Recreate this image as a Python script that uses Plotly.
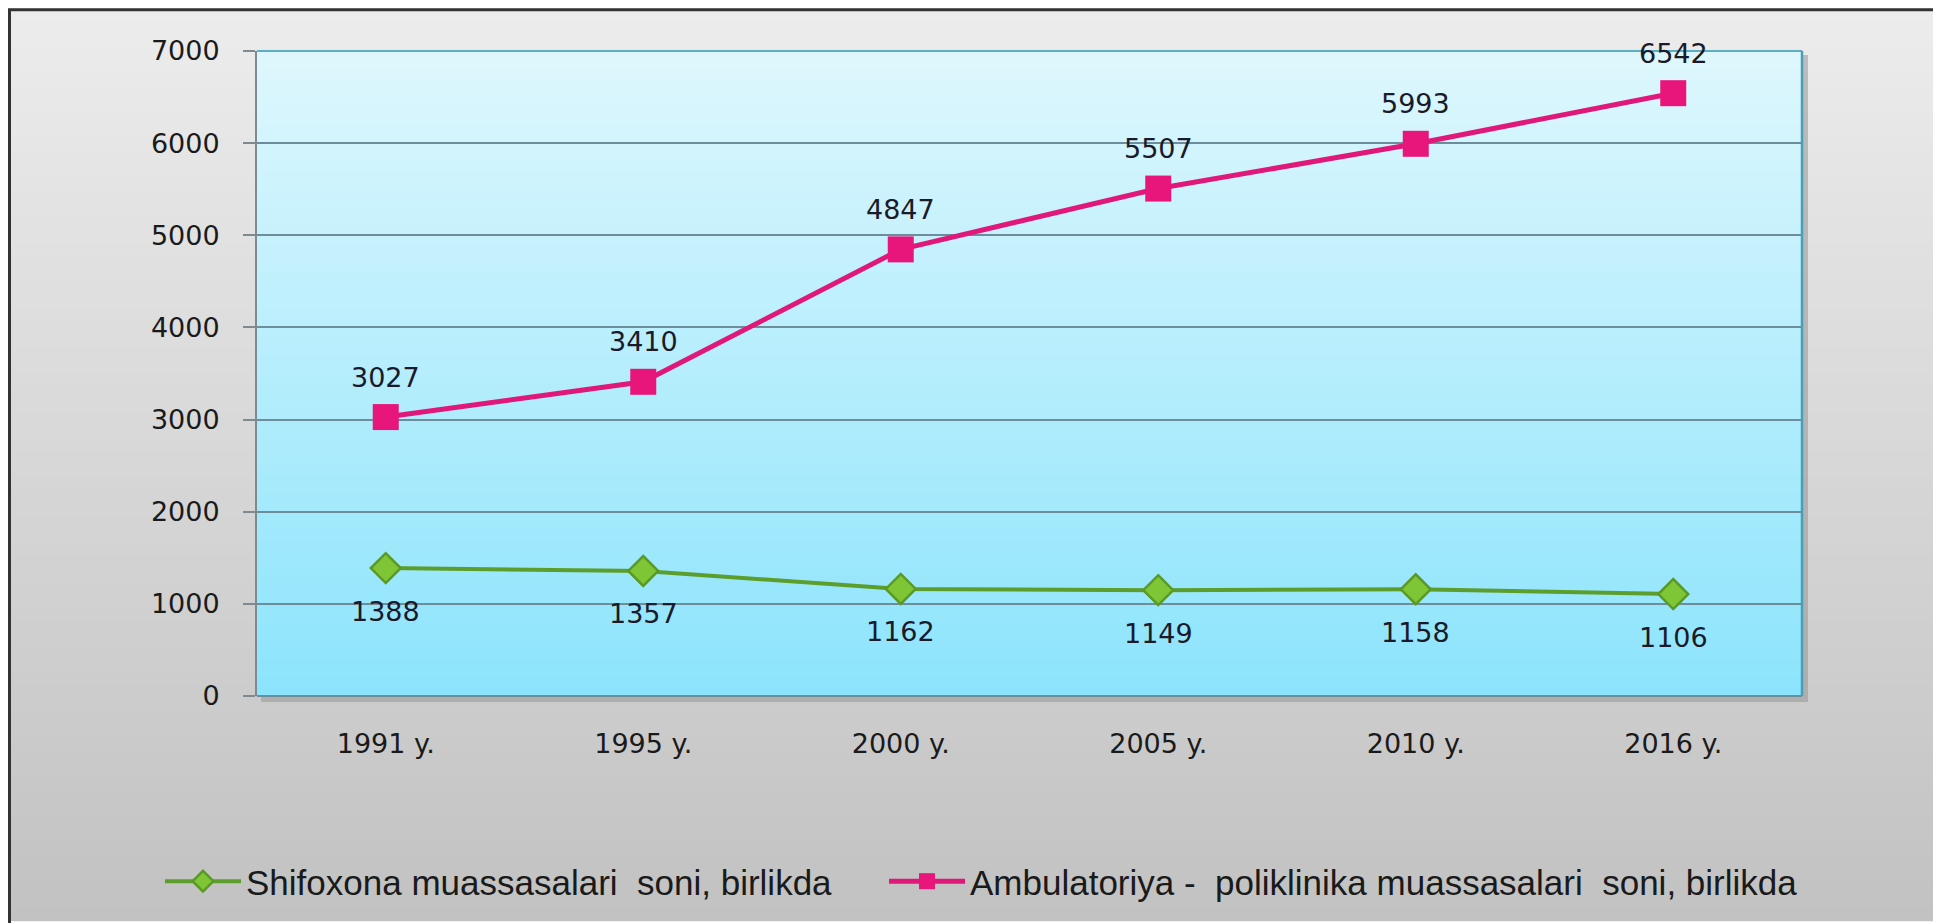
import plotly.graph_objects as go

categories = ["1991 y.", "1995 y.", "2000 y.", "2005 y.", "2010 y.", "2016 y."]
hospitals = [1388, 1357, 1162, 1149, 1158, 1106]
polyclinics = [3027, 3410, 4847, 5507, 5993, 6542]
series_names = ["Shifoxona muassasalari  soni, birlikda",
                "Ambulatoriya -  poliklinika muassasalari  soni, birlikda"]
y_ticks = [0, 1000, 2000, 3000, 4000, 5000, 6000, 7000]

# figure size (page has an 8px body margin)
W, H = 1933, 915
L, R, T, B = 249, 1794, 43, 690
pw, ph = R - L, B - T


def px(x):
    return (x - L) / pw


def py(y):
    return (B - y) / ph


def lerp(c1, c2, t):
    return "rgb(%d,%d,%d)" % tuple(round(a + (b - a) * t) for a, b in zip(c1, c2))


shapes = []
N = 70
# outer gradient background
for i in range(N):
    y0 = H * i / N
    y1 = H * (i + 1) / N + 1
    shapes.append(dict(type="rect", xref="paper", yref="paper", layer="below",
                       x0=px(0), x1=px(W), y0=py(y1), y1=py(y0), line=dict(width=0),
                       fillcolor=lerp((236, 236, 236), (194, 194, 194), i / (N - 1))))
# plot shadow
shapes.append(dict(type="rect", xref="paper", yref="paper", layer="below",
                   x0=px(L + 4), x1=px(R + 6), y0=py(B + 6), y1=py(T + 4),
                   line=dict(width=0), fillcolor="rgba(150,150,150,0.55)"))
# plot gradient
for i in range(N):
    y0 = T + ph * i / N
    y1 = T + ph * (i + 1) / N + 0.8
    shapes.append(dict(type="rect", xref="paper", yref="paper", layer="below",
                       x0=0, x1=1, y0=py(min(y1, B)), y1=py(y0), line=dict(width=0),
                       fillcolor=lerp((222, 247, 253), (140, 228, 252), i / (N - 1))))
# plot border top/right/bottom
shapes.append(dict(type="line", xref="paper", yref="paper", x0=0, x1=1, y0=1, y1=1,
                   line=dict(color="#5aafc5", width=2)))
shapes.append(dict(type="line", xref="paper", yref="paper", x0=1, x1=1, y0=0, y1=1,
                   line=dict(color="#4a9fb8", width=2.5)))
shapes.append(dict(type="line", xref="paper", yref="paper", x0=0, x1=1, y0=0, y1=0,
                   line=dict(color="#6e8d9a", width=2)))
# outer frame (left + top)
shapes.append(dict(type="line", xref="paper", yref="paper",
                   x0=px(1.5), x1=px(1.5), y0=py(H + 5), y1=py(1.5),
                   line=dict(color="#333333", width=3)))
shapes.append(dict(type="line", xref="paper", yref="paper",
                   x0=px(0), x1=px(W + 5), y0=py(1.5), y1=py(1.5),
                   line=dict(color="#333333", width=3)))

label_font = dict(family="DejaVu Sans", size=27, color="#1a1a2a")
annotations = []
for c, v in zip(categories, polyclinics):
    annotations.append(dict(x=c, y=v, xref="x", yref="y", text=str(v), showarrow=False,
                            yshift=40, font=label_font))
for c, v in zip(categories, hospitals):
    annotations.append(dict(x=c, y=v, xref="x", yref="y", text=str(v), showarrow=False,
                            yshift=-43, font=label_font))

fig = go.Figure()
fig.add_trace(go.Scatter(
    x=categories, y=hospitals, name=series_names[0], mode="lines+markers",
    line=dict(color="#5c9e2c", width=4),
    marker=dict(symbol="diamond", size=23, color="#7ec636",
                line=dict(color="#5a9a24", width=2.5)),
    legend="legend",
))
fig.add_trace(go.Scatter(
    x=categories, y=polyclinics, name=series_names[1], mode="lines+markers",
    line=dict(color="#e0187a", width=5),
    marker=dict(symbol="square", size=26, color="#e8157a",
                line=dict(color="#e8157a", width=0)),
    legend="legend2",
))

legend_font = dict(family="Liberation Sans Narrow, Arial Narrow, sans-serif", size=35,
                   color="#1a1a1a")
fig.update_layout(
    width=W, height=H,
    margin=dict(l=L, r=W - R, t=T, b=H - B, pad=0),
    paper_bgcolor="white", plot_bgcolor="rgba(0,0,0,0)",
    shapes=shapes, annotations=annotations, showlegend=True,
    legend=dict(orientation="h", x=px(152), xanchor="left", y=py(876), yanchor="middle",
                font=legend_font, itemwidth=76, bgcolor="rgba(0,0,0,0)"),
    legend2=dict(orientation="h", x=px(876), xanchor="left", y=py(876), yanchor="middle",
                 font=legend_font, itemwidth=76, bgcolor="rgba(0,0,0,0)"),
    xaxis=dict(type="category", range=[-0.5, 5.5], showgrid=False, zeroline=False,
               showline=False, ticks="outside", ticklen=24, tickcolor="rgba(0,0,0,0)",
               tickfont=dict(family="DejaVu Sans", size=27, color="#1a1a1a")),
    yaxis=dict(range=[0, 7000], tickvals=y_ticks, showgrid=True, gridcolor="#6e8d9a",
               gridwidth=1.5, zeroline=False, showline=True, linecolor="#7f8a90", linewidth=2,
               ticks="outside", ticklen=12, tickcolor="#7f8a90", tickwidth=1.5,
               ticklabelstandoff=18,
               tickfont=dict(family="DejaVu Sans", size=27, color="#1a1a1a")),
)
fig.write_html("out.html")
